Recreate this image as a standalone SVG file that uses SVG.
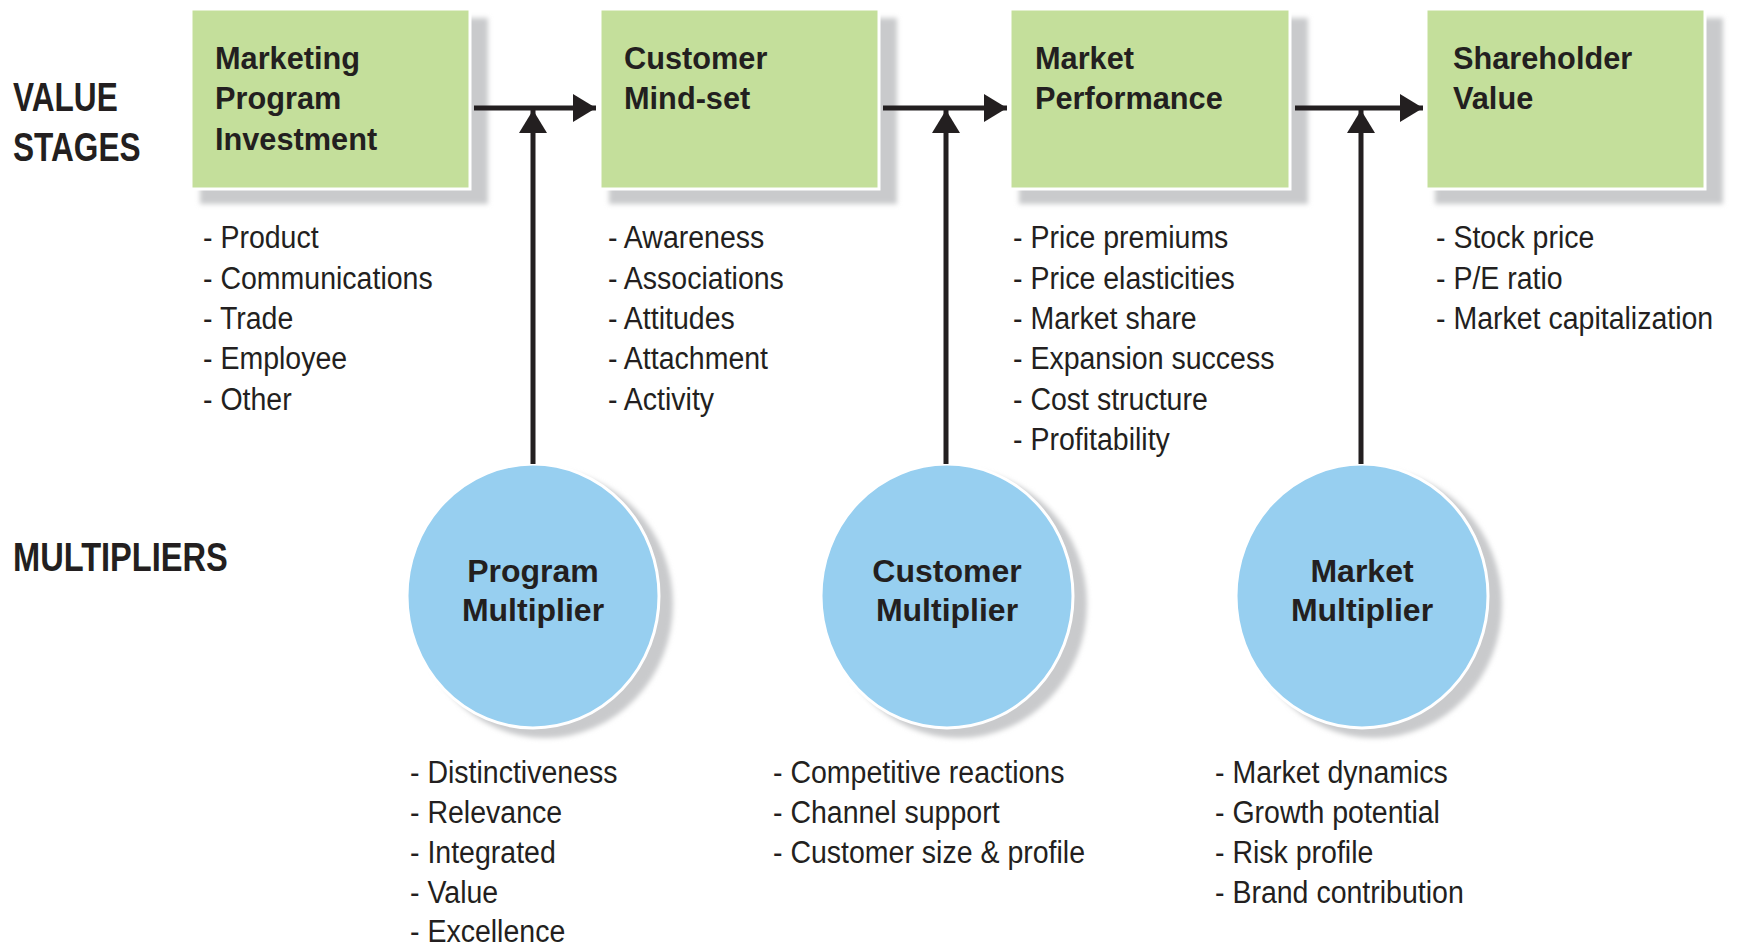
<svg xmlns="http://www.w3.org/2000/svg" width="1741" height="948" viewBox="0 0 1741 948">
  <style>
    .bg { fill: #ffffff; }
    .box { fill: #c4df9b; stroke: #ffffff; stroke-width: 3; }
    .boxshadow { fill: #c9cacc; filter: url(#soft); }
    .circ { fill: #97cff0; stroke: #ffffff; stroke-width: 3; }
    .circshadow { fill: #c9cacc; filter: url(#soft); }
    .head { font-family: "Liberation Sans", Arial, sans-serif; font-weight: bold; font-size: 40px; fill: #231f20; }
    .title { font-family: "Liberation Sans", Arial, sans-serif; font-weight: bold; font-size: 32px; fill: #231f20; }
    .ctitle { font-family: "Liberation Sans", Arial, sans-serif; font-weight: bold; font-size: 32px; fill: #231f20; text-anchor: middle; }
    .item { font-family: "Liberation Sans", Arial, sans-serif; font-size: 31px; fill: #231f20; }
    .link { fill: none; stroke: #231f20; stroke-width: 5; marker-end: url(#arrow); }
  </style>
  <defs>
    <filter id="soft" x="-10%" y="-10%" width="120%" height="120%">
      <feGaussianBlur stdDeviation="2.5"/>
    </filter>
    <marker id="arrow" viewBox="0 0 23 28" refX="23" refY="14" markerWidth="23" markerHeight="28" markerUnits="userSpaceOnUse" orient="auto">
      <path d="M0,0 L23,14 L0,28 Z" fill="#231f20"/>
    </marker>
  </defs>

  <rect class="bg" x="0" y="0" width="1741" height="948"/>

  <!-- Row headings -->
  <g id="heading-value-stages">
    <text class="head" transform="translate(13,111) scale(0.79,1)">VALUE</text>
    <text class="head" transform="translate(13,161) scale(0.79,1)">STAGES</text>
  </g>
  <g id="heading-multipliers">
    <text class="head" transform="translate(13,571) scale(0.815,1)">MULTIPLIERS</text>
  </g>

  <!-- Value stages -->
  <g id="stage-marketing-program-investment">
    <rect class="boxshadow" x="200" y="18" width="288" height="186"/>
    <rect class="box" x="191" y="9" width="279" height="180"/>
    <g transform="translate(215,0) scale(0.96,1)">
      <text class="title" x="0" y="69">Marketing</text>
      <text class="title" x="0" y="109">Program</text>
      <text class="title" x="0" y="150">Investment</text>
    </g>
    <g transform="translate(203,0) scale(0.92,1)">
      <text class="item" x="0" y="248">- Product</text>
      <text class="item" x="0" y="289">- Communications</text>
      <text class="item" x="0" y="329">- Trade</text>
      <text class="item" x="0" y="369">- Employee</text>
      <text class="item" x="0" y="410">- Other</text>
    </g>
  </g>

  <g id="stage-customer-mindset">
    <rect class="boxshadow" x="609" y="18" width="288" height="186"/>
    <rect class="box" x="600" y="9" width="279" height="180"/>
    <g transform="translate(624,0) scale(0.96,1)">
      <text class="title" x="0" y="69">Customer</text>
      <text class="title" x="0" y="109">Mind-set</text>
    </g>
    <g transform="translate(608,0) scale(0.92,1)">
      <text class="item" x="0" y="248">- Awareness</text>
      <text class="item" x="0" y="289">- Associations</text>
      <text class="item" x="0" y="329">- Attitudes</text>
      <text class="item" x="0" y="369">- Attachment</text>
      <text class="item" x="0" y="410">- Activity</text>
    </g>
  </g>

  <g id="stage-market-performance">
    <rect class="boxshadow" x="1019" y="18" width="289" height="186"/>
    <rect class="box" x="1010" y="9" width="280" height="180"/>
    <g transform="translate(1035,0) scale(0.96,1)">
      <text class="title" x="0" y="69">Market</text>
      <text class="title" x="0" y="109">Performance</text>
    </g>
    <g transform="translate(1013,0) scale(0.92,1)">
      <text class="item" x="0" y="248">- Price premiums</text>
      <text class="item" x="0" y="289">- Price elasticities</text>
      <text class="item" x="0" y="329">- Market share</text>
      <text class="item" x="0" y="369">- Expansion success</text>
      <text class="item" x="0" y="410">- Cost structure</text>
      <text class="item" x="0" y="450">- Profitability</text>
    </g>
  </g>

  <g id="stage-shareholder-value">
    <rect class="boxshadow" x="1435" y="18" width="288" height="186"/>
    <rect class="box" x="1426" y="9" width="279" height="180"/>
    <g transform="translate(1453,0) scale(0.96,1)">
      <text class="title" x="0" y="69">Shareholder</text>
      <text class="title" x="0" y="109">Value</text>
    </g>
    <g transform="translate(1436,0) scale(0.92,1)">
      <text class="item" x="0" y="248">- Stock price</text>
      <text class="item" x="0" y="289">- P/E ratio</text>
      <text class="item" x="0" y="329">- Market capitalization</text>
    </g>
  </g>

  <!-- Multipliers -->
  <g id="multiplier-program">
    <ellipse class="circshadow" cx="545" cy="604" rx="128" ry="134"/>
    <ellipse class="circ" cx="533" cy="596" rx="126" ry="132"/>
    <text class="ctitle" x="533" y="582">Program</text>
    <text class="ctitle" x="533" y="621">Multiplier</text>
    <g transform="translate(410,0) scale(0.92,1)">
      <text class="item" x="0" y="783">- Distinctiveness</text>
      <text class="item" x="0" y="823">- Relevance</text>
      <text class="item" x="0" y="863">- Integrated</text>
      <text class="item" x="0" y="903">- Value</text>
      <text class="item" x="0" y="942">- Excellence</text>
    </g>
  </g>

  <g id="multiplier-customer">
    <ellipse class="circshadow" cx="959" cy="604" rx="128" ry="134"/>
    <ellipse class="circ" cx="947" cy="596" rx="126" ry="132"/>
    <text class="ctitle" x="947" y="582">Customer</text>
    <text class="ctitle" x="947" y="621">Multiplier</text>
    <g transform="translate(773,0) scale(0.92,1)">
      <text class="item" x="0" y="783">- Competitive reactions</text>
      <text class="item" x="0" y="823">- Channel support</text>
      <text class="item" x="0" y="863">- Customer size &amp; profile</text>
    </g>
  </g>

  <g id="multiplier-market">
    <ellipse class="circshadow" cx="1374" cy="604" rx="128" ry="134"/>
    <ellipse class="circ" cx="1362" cy="596" rx="126" ry="132"/>
    <text class="ctitle" x="1362" y="582">Market</text>
    <text class="ctitle" x="1362" y="621">Multiplier</text>
    <g transform="translate(1215,0) scale(0.92,1)">
      <text class="item" x="0" y="783">- Market dynamics</text>
      <text class="item" x="0" y="823">- Growth potential</text>
      <text class="item" x="0" y="863">- Risk profile</text>
      <text class="item" x="0" y="903">- Brand contribution</text>
    </g>
  </g>

  <!-- Connectors: stage-to-stage flow and multiplier inputs -->
  <g id="connectors">
    <line class="link" x1="474" y1="108" x2="596" y2="108"/>
    <line class="link" x1="883" y1="108" x2="1007" y2="108"/>
    <line class="link" x1="1295" y1="108" x2="1423" y2="108"/>
    <line class="link" x1="533" y1="464" x2="533" y2="110"/>
    <line class="link" x1="946" y1="464" x2="946" y2="110"/>
    <line class="link" x1="1361" y1="464" x2="1361" y2="110"/>
  </g>
</svg>
